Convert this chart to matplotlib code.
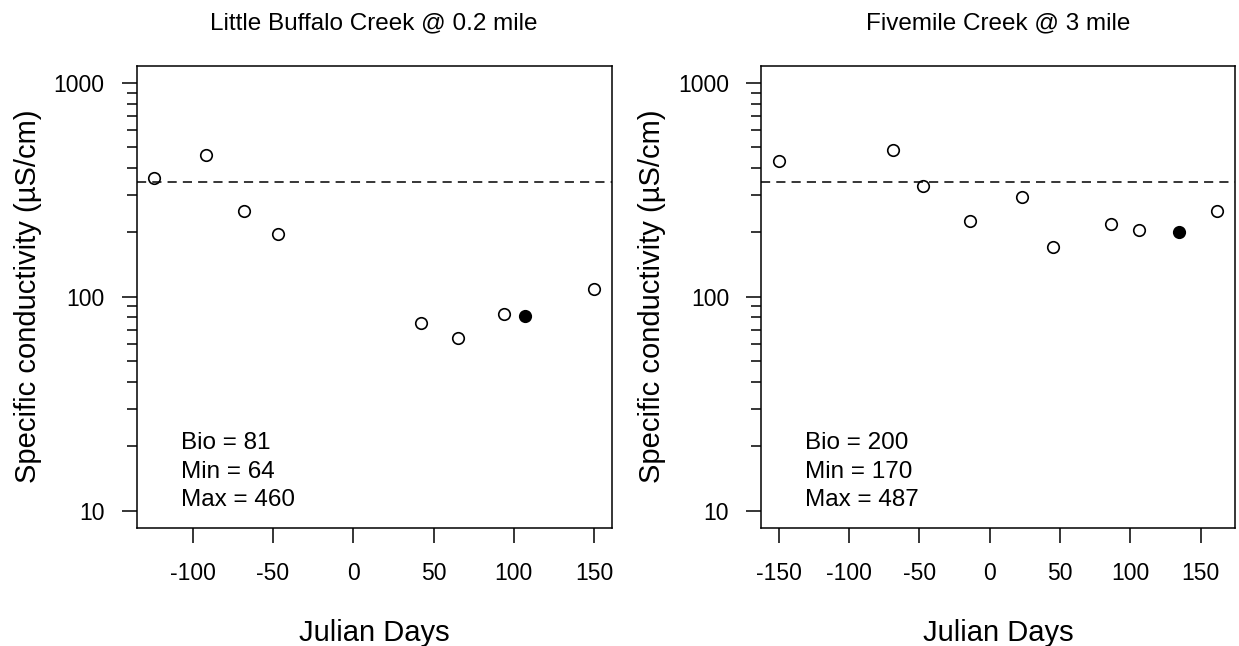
import numpy as np
import matplotlib
matplotlib.use('Agg')
import matplotlib.pyplot as plt
from matplotlib.ticker import FixedLocator, NullFormatter

plt.rcParams['font.family'] = ['Liberation Sans', 'DejaVu Sans']

# Little Buffalo Creek @ 0.2 mile
lb_days = [-124, -92, -68, -47, 42, 65, 94, 150]
lb_cond = [358, 460, 252, 197, 75, 64, 83, 109]
lb_bio_day = [107]
lb_bio_cond = [81]
lb_stats = ['Bio = 81', 'Min = 64', 'Max = 460']
lb_xticks = [-100, -50, 0, 50, 100, 150]

# Fivemile Creek @ 3 mile
fm_days = [-150, -69, -47, -14, 23, 45, 86, 106, 162]
fm_cond = [430, 487, 330, 227, 292, 170, 219, 205, 252]
fm_bio_day = [135]
fm_bio_cond = [200]
fm_stats = ['Bio = 200', 'Min = 170', 'Max = 487']
fm_xticks = [-150, -100, -50, 0, 50, 100, 150]

titles = ['Little Buffalo Creek @ 0.2 mile', 'Fivemile Creek @ 3 mile']
threshold = 343

fig = plt.figure(figsize=(12.39, 6.46), dpi=100)
ax1 = fig.add_axes([0.1103, 0.1831, 0.3834, 0.7152])
ax2 = fig.add_axes([0.6142, 0.1831, 0.3826, 0.7152])


def panel(ax, days, cond, bday, bcond, stats, xticks, title, stats_x):
    # R style 4% padding on x, log y from 10 to 1000
    alld = list(days) + list(bday)
    lo, hi = min(alld), max(alld)
    pad = 0.04 * (hi - lo)
    ax.set_xlim(lo - pad, hi + pad)
    ax.set_yscale('log')
    ax.set_ylim(10 ** 0.92, 10 ** 3.08)

    ax.plot(days, cond, 'o', ms=8.3, mfc='white', mec='black', mew=1.2, ls='none')
    ax.plot(bday, bcond, 'o', ms=8.3, mfc='black', mec='black', mew=1.2, ls='none')
    ax.axhline(threshold, color='black', lw=1.1, ls='--', dashes=(6, 4))

    ax.set_xticks(xticks)
    ax.set_xticklabels([str(t) for t in xticks])
    ax.yaxis.set_major_locator(FixedLocator([10, 100, 1000]))
    ax.set_yticklabels(['10', '100', '1000'])
    minor = [m * d for d in (10, 100) for m in range(2, 10)]
    ax.yaxis.set_minor_locator(FixedLocator(minor))
    ax.yaxis.set_minor_formatter(NullFormatter())
    ax.xaxis.set_minor_locator(FixedLocator([]))

    ax.tick_params(axis='x', which='major', direction='out', length=11, width=1.1,
                   pad=14, labelsize=16.5)
    ax.tick_params(axis='y', which='major', direction='out', length=11, width=1.1,
                   pad=12, labelsize=16.5)
    ax.tick_params(axis='y', which='minor', direction='out', length=7, width=1.1)
    for s in ax.spines.values():
        s.set_linewidth(1.1)

    ax.set_xlabel('Julian Days', fontsize=21, va='center', ha='center')
    ax.xaxis.set_label_coords(0.5, -0.228)
    ax.set_ylabel('Specific conductivity (µS/cm)', fontsize=21, va='center', ha='center')
    ax.yaxis.set_label_coords(-0.229, 0.5)
    ax.text(0.5, 1.0924, title, transform=ax.transAxes, fontsize=17.5,
            ha='center', va='center')

    for i, s in enumerate(stats):
        ax.text(stats_x, 0.1825 - i * 0.0613, s, transform=ax.transAxes,
                fontsize=17.5, ha='left', va='center')


panel(ax1, lb_days, lb_cond, lb_bio_day, lb_bio_cond, lb_stats, lb_xticks, titles[0], 0.093)
panel(ax2, fm_days, fm_cond, fm_bio_day, fm_bio_cond, fm_stats, fm_xticks, titles[1], 0.093)

fig.savefig('out.png', dpi=100)
